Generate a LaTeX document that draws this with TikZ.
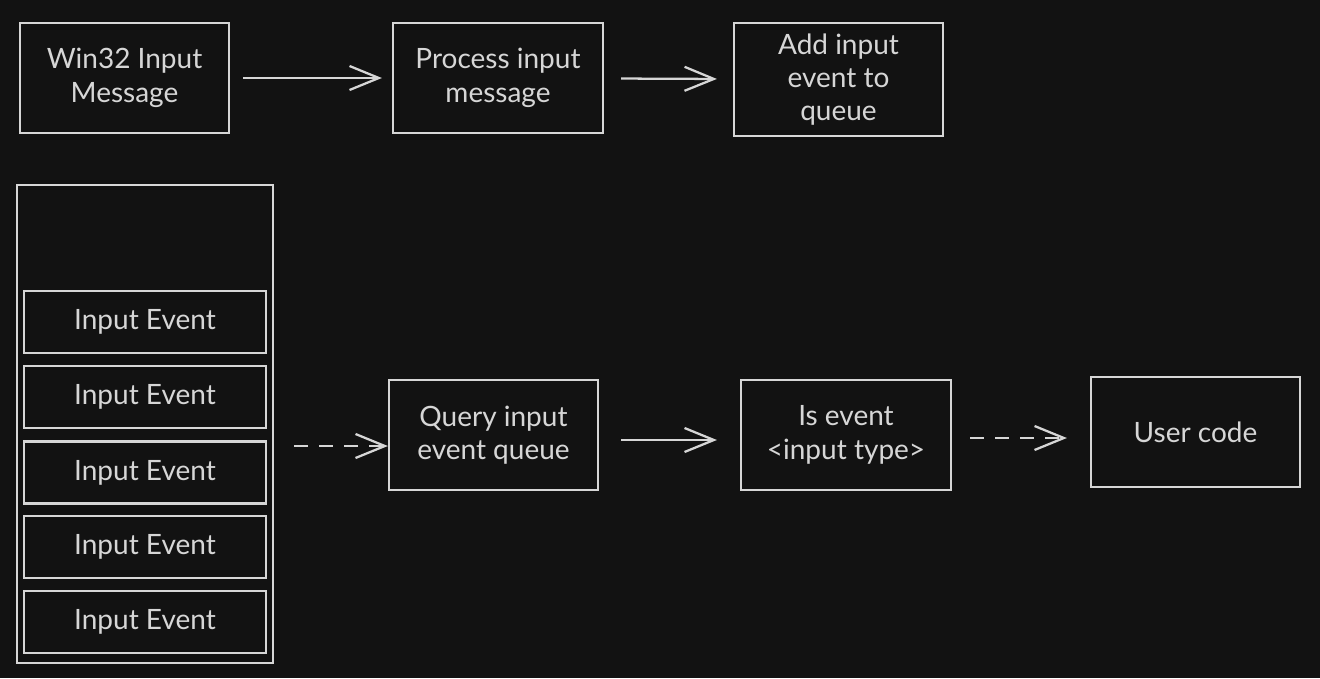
\documentclass[tikz,border=0pt]{standalone}
\usepackage{fontspec}
\setmainfont{Lato}
\usepackage{tikz}
\usetikzlibrary{arrows.meta,calc}
\definecolor{bgcol}{HTML}{121212}
\definecolor{inkcol}{HTML}{D6D6D6}
\tikzstyle{box}=[draw=inkcol,line width=1.7pt,fill=bgcol,text=inkcol,align=center,
                 inner sep=0,font=\fontsize{21}{25}\selectfont]
\tikzstyle{flow}=[draw=inkcol,line width=1.7pt,-{Straight Barb[length=22pt,width=18pt]}]
\tikzstyle{flowdash}=[flow,dash pattern=on 10.5pt off 8.25pt]

\begin{document}
\begin{tikzpicture}[x=0.75pt,y=-0.75pt]
\fill[bgcol] (0,0) rectangle (1320,678);
% top row
\node[box,minimum width=156.75pt,minimum height=82.5pt] (win) at (124.5,78) {Win32 Input\\Message};
\node[box,minimum width=157.5pt,minimum height=82.5pt] (proc) at (498,78) {Process input\\message};
\node[box,minimum width=156.75pt,minimum height=84.75pt] (add) at (838.5,79.5) {Add input\\event to\\queue};
\draw[flow,shorten <=9.75pt,shorten >=7.5pt] (win) -- (proc);
\draw[flow,shorten <=12.75pt,shorten >=12pt] (proc) -- (add);
% queue
\node[box,minimum width=192pt,minimum height=358.5pt] (queue) at (145,424) {};
\foreach \i/\y in {1/322,2/397,3/472.5,4/547,5/622}
\node[box,minimum width=181.5pt,minimum height=46.5pt] (ev\i) at (145,\y) {Input Event};
% bottom row
\node[box,minimum width=156.75pt,minimum height=82.5pt] (query) at (493.5,435) {Query input\\event queue};
\node[box,minimum width=157.5pt,minimum height=82.5pt] (isev) at (846,435) {Is event\\<input type>};
\node[box,minimum width=156.75pt,minimum height=82.5pt] (user) at (1195.5,432) {User code};
\coordinate (qin) at ([yshift=-8.25pt]query.west);
\coordinate (qout) at ([yshift=-3.75pt]query.east);
\coordinate (iout) at ([yshift=-2.25pt]isev.east);
\draw[flowdash,shorten <=15pt] (queue.east |- qin) -- (qin);
\draw[flow,shorten <=16.5pt,shorten >=17.25pt] (qout) -- (isev.west |- qout);
\draw[flowdash,shorten <=13.5pt,shorten >=17.25pt] (iout) -- (user.west |- iout);
\end{tikzpicture}
\end{document}
